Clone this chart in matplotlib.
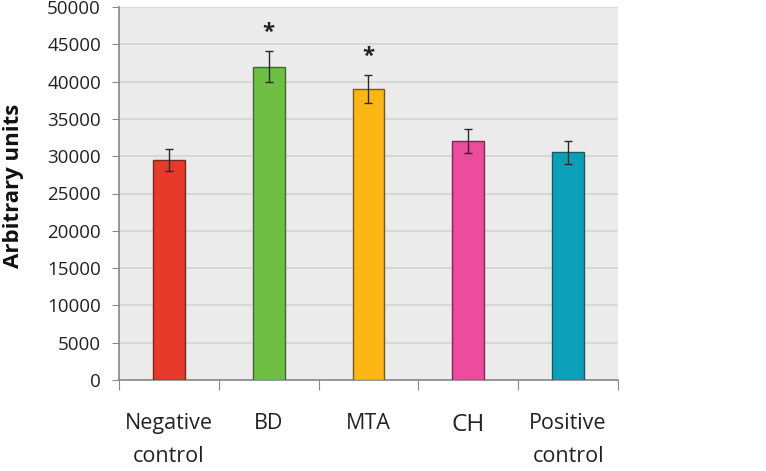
import matplotlib
matplotlib.use("Agg")
import matplotlib.pyplot as plt
import numpy as np

categories = ["Negative\ncontrol", "BD", "MTA", "CH", "Positive\ncontrol"]
values = [29500, 42000, 39000, 32000, 30500]
errors = [1500, 2100, 1900, 1600, 1500]
significant = [False, True, True, False, False]
star_values = [None, 46600, 43400, None, None]
yticks = [0, 5000, 10000, 15000, 20000, 25000, 30000, 35000, 40000, 45000, 50000]

colors = ["#E63A2B", "#70BF45", "#FDB714", "#EC4C9B", "#0BA0B7"]
edges = ["#7A2A20", "#3F6A2A", "#7A5A1A", "#7A2A55", "#1A5A66"]

plt.rcParams['font.family'] = ['Open Sans', 'DejaVu Sans']

fig = plt.figure(figsize=(7.66, 4.71), dpi=100)
ax = fig.add_axes([119/766, 91/471, 499/766, 373/471])
ax.set_facecolor("#EBEBEB")

x = np.arange(len(categories))
ax.bar(x, values, width=0.32, color=colors, edgecolor=edges, linewidth=1.0, zorder=3)
ax.errorbar(x, values, yerr=errors, fmt="none", ecolor="#2a2a2a", elinewidth=1.0,
            capsize=3, capthick=1.0, zorder=4)
for xi, s, sv in zip(x, significant, star_values):
    if s:
        ax.text(xi, sv, "*", ha="center", va="center", fontsize=16, fontweight="bold",
                color="#222222", zorder=5)

ax.set_ylim(0, 50000)
ax.set_xlim(-0.5, len(categories) - 0.5)
ax.set_yticks(yticks)
ax.set_yticklabels([str(t) for t in yticks], fontsize=13.5, color="#222222")
ax.yaxis.grid(True, color="#D4D4D4", linewidth=1.2, zorder=0)
ax.set_axisbelow(True)

ax.set_xticks(np.arange(-0.5, len(categories) + 0.5, 1.0))
ax.set_xticklabels([])
ax.set_xticks(x, minor=True)
ax.set_xticklabels(categories, minor=True, fontsize=15.5, color="#222222", linespacing=1.7)
ax.tick_params(axis="x", which="major", direction="out", length=7, color="#888888")
ax.tick_params(axis="x", which="minor", length=0, pad=24)
ax.tick_params(axis="y", direction="out", length=5, color="#888888", pad=8)
for lbl in ax.get_xticklabels(minor=True):
    if lbl.get_text() == "CH":
        lbl.set_fontsize(17.5)
    lbl.set_verticalalignment("top")

for side in ["top", "right"]:
    ax.spines[side].set_visible(False)
for side in ["left", "bottom"]:
    ax.spines[side].set_color("#888888")
    ax.spines[side].set_linewidth(1.2)

ax.set_ylabel("Arbitrary units", fontsize=16, fontweight="bold", color="#111111")
ax.yaxis.set_label_coords(-95/499, (380 - 186) / 373)

fig.savefig("out.png", dpi=100)
